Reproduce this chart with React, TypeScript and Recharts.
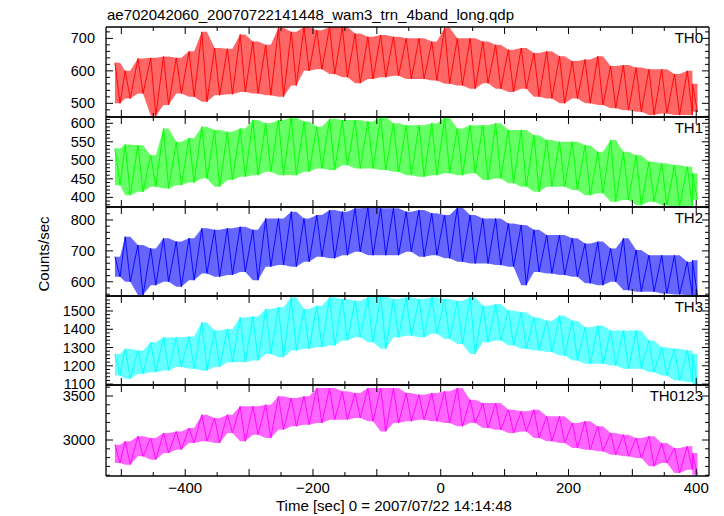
import { ComposedChart, Area, Line, XAxis, YAxis } from 'recharts'

// time bins (sec from 2007/07/22 14:14:48)
const times = [-506, -490, -470, -450, -430, -410, -390, -370, -350, -330, -310, -290, -270, -250, -230, -210, -190, -170, -150, -130, -110, -90, -70, -50, -30, -10, 10, 30, 50, 70, 90, 110, 130, 150, 170, 190, 210, 230, 250, 270, 290, 310, 330, 350, 370, 390, 398]

// upper / lower envelope of the counts in each bin
const th0Hi = [625, 600, 638, 640, 644, 640, 660, 720, 670, 668, 712, 690, 680, 733, 720, 735, 725, 735, 735, 715, 705, 710, 705, 700, 700, 690, 733, 700, 700, 690, 680, 665, 670, 655, 660, 645, 630, 635, 645, 615, 618, 610, 605, 605, 590, 600, 560]
const th0Lo = [500, 515, 530, 462, 495, 530, 520, 505, 525, 528, 535, 530, 525, 520, 555, 600, 605, 590, 580, 562, 575, 580, 585, 575, 575, 570, 560, 555, 545, 562, 545, 535, 545, 520, 515, 500, 515, 500, 495, 485, 479, 474, 464, 469, 464, 464, 474]
const th1Hi = [532, 543, 541, 514, 586, 550, 560, 591, 582, 577, 586, 609, 600, 609, 615, 605, 591, 612, 609, 609, 605, 617, 600, 595, 595, 600, 615, 586, 595, 595, 600, 582, 582, 568, 555, 550, 550, 541, 523, 555, 523, 514, 496, 492, 487, 483, 465]
const th1Lo = [433, 406, 415, 429, 424, 433, 440, 451, 429, 447, 456, 460, 469, 460, 460, 469, 478, 474, 487, 478, 478, 474, 469, 460, 456, 460, 465, 460, 465, 447, 451, 438, 429, 415, 429, 429, 420, 406, 411, 388, 393, 379, 388, 379, 375, 375, 393]
const th2Hi = [681, 746, 719, 708, 741, 730, 741, 773, 768, 773, 778, 768, 805, 805, 827, 805, 816, 832, 827, 838, 840, 838, 838, 827, 832, 822, 816, 840, 816, 805, 805, 789, 784, 768, 751, 751, 741, 724, 730, 708, 741, 703, 686, 686, 686, 665, 670]
const th2Lo = [616, 600, 557, 589, 600, 584, 605, 627, 616, 622, 632, 605, 649, 654, 649, 665, 681, 676, 686, 697, 686, 686, 686, 697, 681, 686, 676, 665, 659, 659, 654, 649, 589, 632, 627, 622, 616, 595, 589, 600, 573, 568, 568, 562, 559, 557, 555]
const th3Hi = [1265, 1293, 1284, 1329, 1356, 1356, 1360, 1438, 1393, 1402, 1465, 1470, 1511, 1520, 1575, 1511, 1529, 1575, 1565, 1556, 1575, 1578, 1565, 1575, 1565, 1575, 1565, 1556, 1575, 1529, 1538, 1502, 1493, 1465, 1447, 1475, 1447, 1411, 1420, 1393, 1393, 1393, 1338, 1302, 1293, 1284, 1265]
const th3Lo = [1147, 1129, 1156, 1165, 1175, 1193, 1184, 1175, 1193, 1220, 1220, 1229, 1265, 1247, 1284, 1293, 1302, 1311, 1338, 1356, 1329, 1293, 1356, 1365, 1356, 1375, 1347, 1320, 1265, 1329, 1338, 1311, 1293, 1284, 1275, 1256, 1229, 1211, 1211, 1202, 1184, 1184, 1165, 1147, 1120, 1111, 1098]
const sumHi = [2947, 2985, 3042, 3023, 3080, 3098, 3136, 3288, 3250, 3288, 3383, 3383, 3402, 3496, 3477, 3496, 3591, 3591, 3553, 3534, 3591, 3591, 3591, 3534, 3515, 3534, 3553, 3591, 3458, 3420, 3420, 3345, 3326, 3345, 3269, 3269, 3193, 3212, 3155, 3080, 3061, 3023, 3042, 2966, 2909, 2928, 2852]
const sumLo = [2739, 2720, 2814, 2777, 2852, 2890, 2966, 2985, 2966, 3080, 2985, 3061, 3023, 3117, 3155, 3174, 3193, 3231, 3231, 3250, 3212, 3098, 3193, 3212, 3231, 3212, 3193, 3155, 3193, 3136, 3117, 3080, 3098, 3023, 2985, 2966, 2909, 2890, 2871, 2833, 2814, 2795, 2701, 2739, 2625, 2663, 2606]

const xTicks = [-500, -450, -400, -350, -300, -250, -200, -150, -100, -50, 0, 50, 100, 150, 200, 250, 300, 350, 400]
const xLabels = [-400, -200, 0, 200, 400]

const th0Ticks = [460, 480, 500, 520, 540, 560, 580, 600, 620, 640, 660, 680, 700, 720]
const th0Labels = [500, 600, 700]
const th1Ticks = [380, 390, 400, 410, 420, 430, 440, 450, 460, 470, 480, 490, 500, 510, 520, 530, 540, 550, 560, 570, 580, 590, 600, 610]
const th1Labels = [400, 450, 500, 550, 600]
const th2Ticks = [560, 580, 600, 620, 640, 660, 680, 700, 720, 740, 760, 780, 800, 820, 840]
const th2Labels = [600, 700, 800]
const th3Ticks = [1100, 1120, 1140, 1160, 1180, 1200, 1220, 1240, 1260, 1280, 1300, 1320, 1340, 1360, 1380, 1400, 1420, 1440, 1460, 1480, 1500, 1520, 1540, 1560, 1580]
const th3Labels = [1100, 1200, 1300, 1400, 1500]
const sumTicks = [2600, 2700, 2800, 2900, 3000, 3100, 3200, 3300, 3400, 3500, 3600]
const sumLabels = [3000, 3500]

const FONT = '"Liberation Sans", Arial, Helvetica, sans-serif'
const FS = 15
const TFS = 14.5
const LEFT = 106
const RIGHT = 709
const PAD = 12

const fmt = (v: number) => (v < 0 ? '\u2212' + Math.abs(v) : String(v))

const panels = [
  { name: 'TH0', color: '#ff0000', hi: th0Hi, lo: th0Lo, domain: [458, 735], ticks: th0Ticks, labels: th0Labels, top: 27, bottom: 117 },
  { name: 'TH1', color: '#00ff00', hi: th1Hi, lo: th1Lo, domain: [374, 617], ticks: th1Ticks, labels: th1Labels, top: 117, bottom: 207 },
  { name: 'TH2', color: '#0000ff', hi: th2Hi, lo: th2Lo, domain: [554, 842], ticks: th2Ticks, labels: th2Labels, top: 207, bottom: 296 },
  { name: 'TH3', color: '#00ffff', hi: th3Hi, lo: th3Lo, domain: [1095, 1582], ticks: th3Ticks, labels: th3Labels, top: 296, bottom: 385 },
  { name: 'TH0123', color: '#ff00ff', hi: sumHi, lo: sumLo, domain: [2591, 3625], ticks: sumTicks, labels: sumLabels, top: 385, bottom: 476 },
]

function Panel({ p, last }: { p: (typeof panels)[number]; last: boolean }) {
  const rows: { t: number; band: number[]; z: number }[] = []
  times.forEach((t, i) => {
    rows.push({ t: t - 4, band: [p.lo[i], p.hi[i]], z: p.hi[i] })
    rows.push({ t: t + 4, band: [p.lo[i], p.hi[i]], z: p.lo[i] })
  })
  const bottomPad = last ? 30 : PAD
  const h = p.bottom - p.top + PAD + bottomPad
  const axisLine = { stroke: '#000', strokeWidth: 1.3 }

  const bottomTick = (props: any) => {
    const { x, y, payload } = props
    const v = payload.value
    const len = v % 100 === 0 ? 7 : 4
    return (
      <g>
        <line x1={x} x2={x} y1={y} y2={y - len} stroke="#000" />
        {last && xLabels.includes(v) && (
          <text x={x} y={y + 17} textAnchor="middle" fontSize={FS} fontFamily={FONT} fill="#000">
            {fmt(v)}
          </text>
        )}
      </g>
    )
  }
  const topTick = (props: any) => {
    const { x, y, payload } = props
    const len = payload.value % 100 === 0 ? 7 : 4
    return <line x1={x} x2={x} y1={y} y2={y + len} stroke="#000" />
  }
  const leftTick = (props: any) => {
    const { x, y, payload } = props
    const v = payload.value
    const major = p.labels.includes(v)
    return (
      <g>
        <line x1={x} x2={x + (major ? 7 : 4)} y1={y} y2={y} stroke="#000" />
        {major && (
          <text x={x - 11} y={y + 5} textAnchor="end" fontSize={TFS} fontFamily={FONT} fill="#000">
            {v}
          </text>
        )}
      </g>
    )
  }
  const rightTick = (props: any) => {
    const { x, y, payload } = props
    const len = p.labels.includes(payload.value) ? 7 : 4
    return <line x1={x} x2={x - len} y1={y} y2={y} stroke="#000" />
  }

  return (
    <div style={{ position: 'absolute', left: 0, top: p.top - PAD }}>
      <ComposedChart width={724} height={h} data={rows}
        margin={{ top: PAD - 1, right: 724 - RIGHT - 1, bottom: bottomPad - 1, left: LEFT - 1 }}>
        <XAxis xAxisId="b" dataKey="t" type="number" domain={[-524, 420]} allowDataOverflow ticks={xTicks} interval={0}
          height={1} tickSize={0} tickMargin={0} tick={bottomTick} axisLine={axisLine} />
        <XAxis xAxisId="t" orientation="top" dataKey="t" type="number" domain={[-524, 420]} allowDataOverflow ticks={xTicks} interval={0}
          height={1} tickSize={0} tickMargin={0} tick={topTick} axisLine={axisLine} />
        <YAxis yAxisId="l" type="number" domain={p.domain} allowDataOverflow ticks={p.ticks} interval={0}
          width={1} tickSize={0} tickMargin={0} tick={leftTick} axisLine={axisLine} />
        <YAxis yAxisId="r" orientation="right" type="number" domain={p.domain} allowDataOverflow ticks={p.ticks} interval={0}
          width={1} tickSize={0} tickMargin={0} tick={rightTick} axisLine={axisLine} />
        <Area xAxisId="b" yAxisId="l" type="linear" dataKey="band" stroke="none" fill={p.color} fillOpacity={0.6} isAnimationActive={false} />
        <Line xAxisId="b" yAxisId="l" type="linear" dataKey="z" stroke={p.color} strokeWidth={0.9} dot={false} isAnimationActive={false} />
      </ComposedChart>
    </div>
  )
}

export default function App() {
  return (
    <div style={{ position: 'absolute', left: 0, top: 0, width: 724, height: 516, background: '#fff', fontFamily: FONT }}>
      {panels.map((p, i) => (
        <Panel key={p.name} p={p} last={i === panels.length - 1} />
      ))}
      <svg width={724} height={516} style={{ position: 'absolute', left: 0, top: 0, pointerEvents: 'none' }}>
        <text x={107} y={20} fontSize={FS} fontFamily={FONT} fill="#000">ae702042060_20070722141448_wam3_trn_4band_long.qdp</text>
        {panels.map((p) => (
          <text key={p.name} x={703} y={p.top + 16} textAnchor="end" fontSize={FS} fontFamily={FONT} fill="#000">{p.name}</text>
        ))}
        <text x={276} y={511} fontSize={FS} fontFamily={FONT} fill="#000">Time [sec] 0 = 2007/07/22 14:14:48</text>
        <text x={49} y={254} transform="rotate(-90 49 254)" textAnchor="middle" fontSize={FS} fontFamily={FONT} fill="#000">Counts/sec</text>
      </svg>
    </div>
  )
}
